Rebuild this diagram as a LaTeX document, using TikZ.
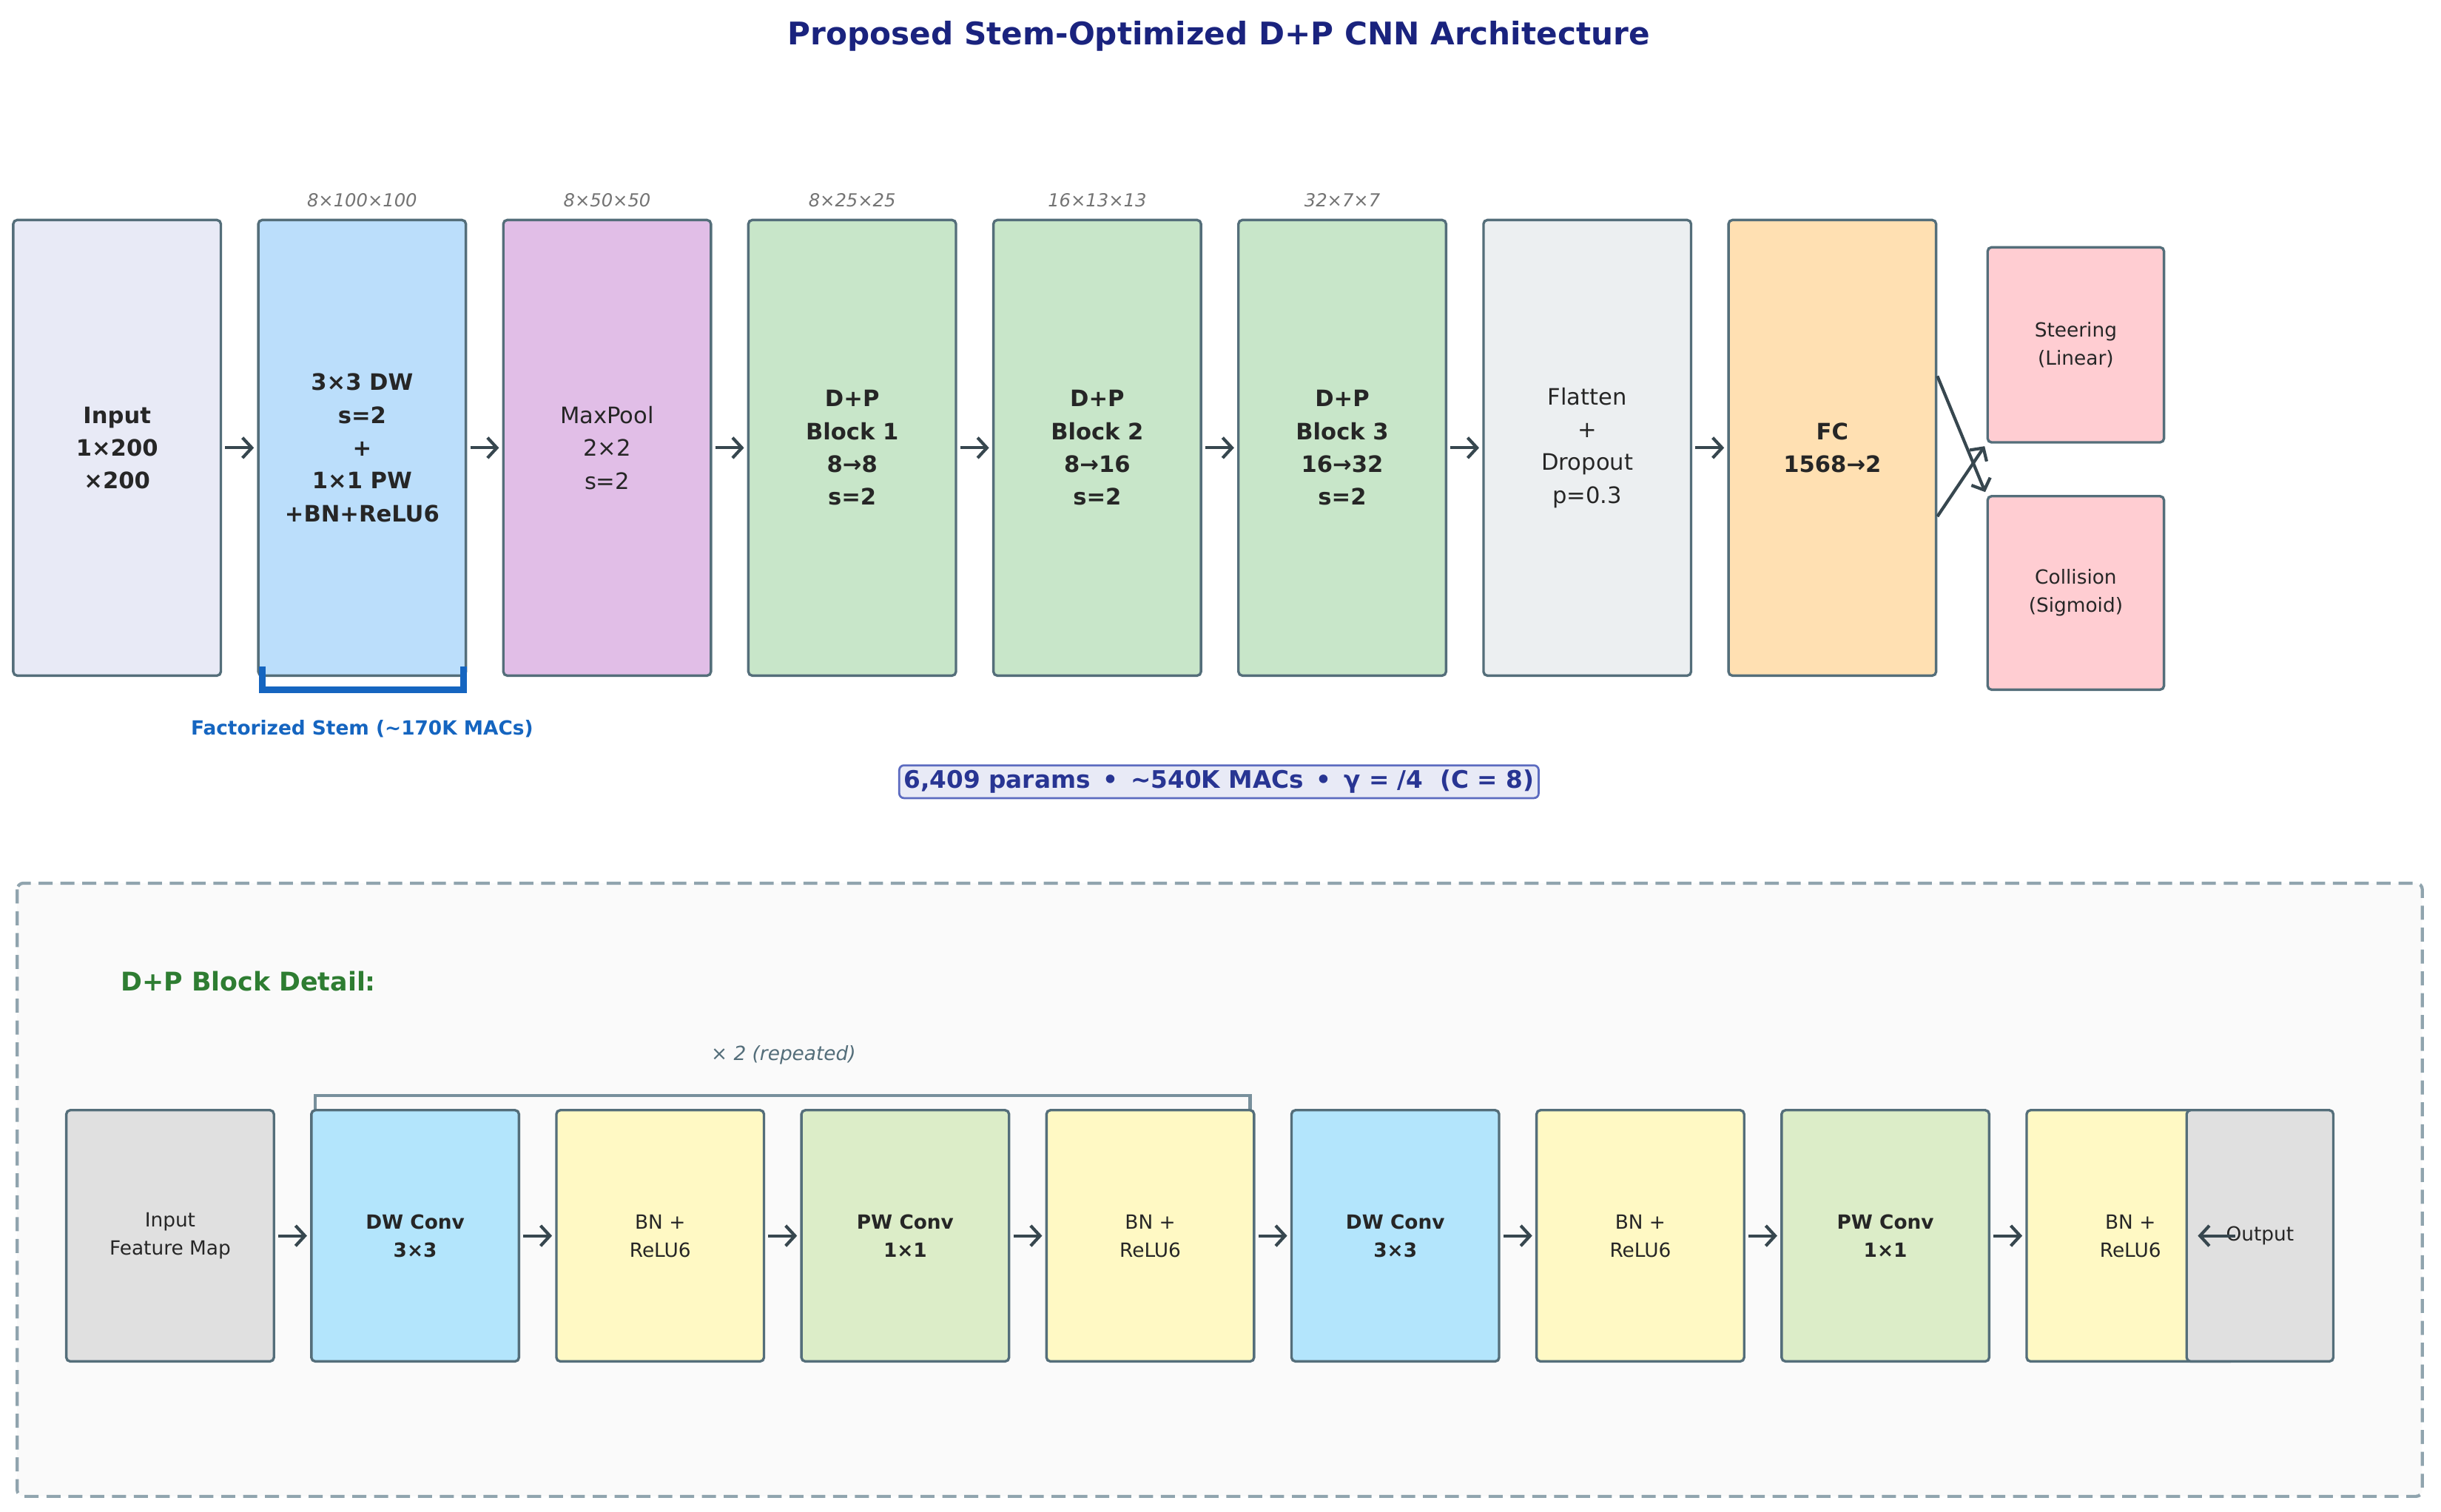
\documentclass[tikz,border=0pt]{standalone}
\usepackage{fontspec}
\setmainfont{DejaVu Sans}
\usetikzlibrary{arrows.meta}
\definecolor{edge}{HTML}{546E7A}
\definecolor{arrc}{HTML}{37474F}
\definecolor{cTitle}{HTML}{1A237E}
\definecolor{cIn}{HTML}{E8EAF6}
\definecolor{cStem}{HTML}{BBDEFB}
\definecolor{cMp}{HTML}{E1BEE7}
\definecolor{cDP}{HTML}{C8E6C9}
\definecolor{cFl}{HTML}{ECEFF1}
\definecolor{cFC}{HTML}{FFE0B2}
\definecolor{cOut}{HTML}{FFCDD2}
\definecolor{cBlue}{HTML}{1565C0}
\definecolor{cSumB}{HTML}{5C6BC0}
\definecolor{cSumT}{HTML}{283593}
\definecolor{cDash}{HTML}{90A4AE}
\definecolor{cPanel}{HTML}{FAFAFA}
\definecolor{cGreen}{HTML}{2E7D32}
\definecolor{cRep}{HTML}{546E7A}
\definecolor{cRepB}{HTML}{78909C}
\definecolor{cGray}{HTML}{E0E0E0}
\definecolor{cDW}{HTML}{B3E5FC}
\definecolor{cBN}{HTML}{FFF9C4}
\definecolor{cPW}{HTML}{DCEDC8}
\tikzset{
 box/.style={draw=edge,line width=1.6pt,rounded corners=2.5pt,minimum width=133pt,inner sep=2pt,align=center,text=black!85,font=\fontsize{14.5}{21}\selectfont},
 tb/.style={box,minimum height=292pt},
 tbb/.style={tb,font=\bfseries\fontsize{14.5}{21}\selectfont},
 bb/.style={box,minimum height=161pt,font=\fontsize{12.5}{18}\selectfont},
 bbb/.style={bb,font=\bfseries\fontsize{12.5}{18}\selectfont},
 arr/.style={draw=arrc,line width=2pt,-{Straight Barb[length=6pt,width=13pt,line width=2pt]},shorten >=2pt,shorten <=2pt},
 dim/.style={font=\itshape\fontsize{11.5}{13}\selectfont,text=black!55},
}
\begin{document}
\begin{tikzpicture}[x=1pt,y=-1pt]
\useasboundingbox (0,0) rectangle (1564,969);
\node[font=\bfseries\fontsize{20}{24}\selectfont,text=cTitle] (title) at (781,23) {Proposed Stem-Optimized D+P CNN Architecture};
% top row
\node[tbb,fill=cIn] (in) at (75,287) {Input\\1×200\\×200};
\node[tbb,fill=cStem] (stem) at (232,287) {3×3 DW\\s=2\\+\\1×1 PW\\+BN+ReLU6};
\node[tb,fill=cMp] (mp) at (389,287) {MaxPool\\2×2\\s=2};
\node[tbb,fill=cDP] (b1) at (546,287) {D+P\\Block 1\\8→8\\s=2};
\node[tbb,fill=cDP] (b2) at (703,287) {D+P\\Block 2\\8→16\\s=2};
\node[tbb,fill=cDP] (b3) at (860,287) {D+P\\Block 3\\16→32\\s=2};
\node[tb,fill=cFl] (fl) at (1017,287) {Flatten\\+\\Dropout\\p=0.3};
\node[tbb,fill=cFC] (fc) at (1174,287) {FC\\1568→2};
\node[box,fill=cOut,minimum width=113pt,minimum height=125pt,font=\fontsize{12.5}{18}\selectfont] (st) at (1330,221) {Steering\\(Linear)};
\node[box,fill=cOut,minimum width=113pt,minimum height=124pt,font=\fontsize{12.5}{18}\selectfont] (co) at (1330,380) {Collision\\(Sigmoid)};
\foreach \n/\t in {stem/8×100×100,mp/8×50×50,b1/8×25×25,b2/16×13×13,b3/32×7×7}
  \node[dim,above=4pt] at (\n.north) {\t};
\foreach \a/\b in {in/stem,stem/mp,mp/b1,b1/b2,b2/b3,b3/fl,fl/fc}
  \draw[arr] (\a) -- (\b);
\draw[arr,shorten <=0pt] ([yshift=-44pt]fc.east) -- (st.south west);
\draw[arr,shorten <=0pt] ([yshift=46pt]fc.east) -- (co.north west);
\coordinate (s1) at (168,427); \coordinate (s2) at (297,427);
\draw[draw=cBlue,line width=4pt] (s1) -- ++(0,15) -| (s2);
\node[font=\bfseries\fontsize{12.5}{15}\selectfont,text=cBlue] (fs) at (232,467) {Factorized Stem (\textasciitilde170K MACs)};
\node[draw=cSumB,fill=cIn,line width=1.3pt,rounded corners=3pt,inner sep=3pt,font=\bfseries\fontsize{15.5}{18}\selectfont,text=cSumT] (sum) at (781,501) {6,409 params \,•\, \textasciitilde540K MACs \,•\, γ = /4 \ (C = 8)};
% bottom panel
\draw[draw=cDash,fill=cPanel,line width=2pt,dash pattern=on 9pt off 5pt,rounded corners=4pt] (11,566) rectangle (1552,959);
\node[anchor=west,font=\bfseries\fontsize{16.5}{20}\selectfont,text=cGreen] (dt) at (74,629) {D+P Block Detail:};
\node[font=\itshape\fontsize{12.5}{15}\selectfont,text=cRep] (rep) at (502,676) {× 2 (repeated)};
\coordinate (r1) at (202,717); \coordinate (r2) at (801,717);
\draw[draw=cRepB,line width=2pt] (r1) -- ++(0,-15) -| (r2);
\node[bb,fill=cGray] (fm) at (109,792) {Input\\Feature Map};
\node[bbb,fill=cDW] (dw1) at (266,792) {DW Conv\\3×3};
\node[bb,fill=cBN] (bn1) at (423,792) {BN +\\ReLU6};
\node[bbb,fill=cPW] (pw1) at (580,792) {PW Conv\\1×1};
\node[bb,fill=cBN] (bn2) at (737,792) {BN +\\ReLU6};
\node[bbb,fill=cDW] (dw2) at (894,792) {DW Conv\\3×3};
\node[bb,fill=cBN] (bn3) at (1051,792) {BN +\\ReLU6};
\node[bbb,fill=cPW] (pw2) at (1208,792) {PW Conv\\1×1};
\node[bb,fill=cBN] (bn4) at (1365,792) {BN +\\ReLU6};
\node[bb,fill=cGray,minimum width=94pt] (out) at (1448,792) {Output};
\foreach \a/\b in {fm/dw1,dw1/bn1,bn1/pw1,pw1/bn2,bn2/dw2,dw2/bn3,bn3/pw2,pw2/bn4}
  \draw[arr] (\a) -- (\b);
\draw[arr,shorten >=8pt,shorten <=0pt] (bn4.east) -- (out.west);
\end{tikzpicture}
\end{document}
